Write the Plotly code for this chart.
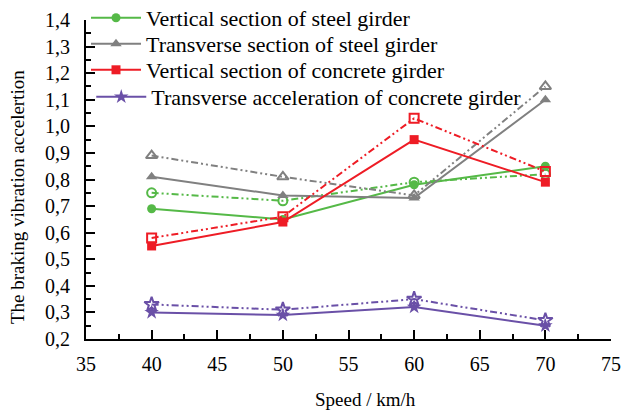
import plotly.graph_objects as go

speed = [40, 50, 60, 70]

steel_vert = [0.69, 0.65, 0.78, 0.85]
steel_vert_b = [0.75, 0.72, 0.79, 0.82]
steel_trans = [0.81, 0.74, 0.73, 1.10]
steel_trans_b = [0.89, 0.81, 0.74, 1.15]
conc_vert = [0.55, 0.64, 0.95, 0.79]
conc_vert_b = [0.58, 0.66, 1.03, 0.83]
conc_trans = [0.30, 0.29, 0.32, 0.25]
conc_trans_b = [0.33, 0.31, 0.35, 0.27]

names = ["Vertical section of steel girder",
         "Transverse section of steel girder",
         "Vertical section of concrete girder",
         "Transverse acceleration of concrete girder"]

GREEN = "#55b947"
GRAY = "#808080"
RED = "#ee1c25"
PURPLE = "#6a50a7"
FONT = "Liberation Serif"
DASH = "7px,3px,2px,3px,2px,3px"

series = [
    (steel_vert, steel_vert_b, GREEN, "circle", "circle-open", names[0], 9),
    (steel_trans, steel_trans_b, GRAY, "triangle-up", "triangle-up-open", names[1], 10),
    (conc_vert, conc_vert_b, RED, "square", "square-open", names[2], 9),
    (conc_trans, conc_trans_b, PURPLE, "star", "star-open", names[3], 11),
]

fig = go.Figure()
legend_ids = ["legend", "legend2", "legend3", "legend4"]
for i, (a, b, col, sym, sym_o, nm, ms) in enumerate(series):
    fig.add_trace(go.Scatter(x=speed, y=b, mode="lines+markers", showlegend=False,
                             line=dict(color=col, width=2, dash=DASH),
                             marker=dict(symbol=sym_o, size=ms, color=col,
                                         line=dict(color=col, width=2))))
    fig.add_trace(go.Scatter(x=speed, y=a, mode="lines+markers", name=nm,
                             legend=legend_ids[i],
                             line=dict(color=col, width=2),
                             marker=dict(symbol=sym, size=ms, color=col)))

row_y = [18, 44, 70, 97]
leg_x = [0.0, 0.0, 0.0, 0.01]
leg_common = dict(bgcolor="rgba(0,0,0,0)", font=dict(family=FONT, size=22, color="black"),
                  itemwidth=50, xanchor="left", yanchor="middle")
layout_legs = {}
for i, lid in enumerate(legend_ids):
    d = dict(leg_common)
    d["y"] = 1 - (row_y[i] - 20) / 319.0
    d["x"] = leg_x[i]
    layout_legs[lid] = d

fig.update_layout(
    width=621, height=412,
    margin=dict(l=86, r=10, t=20, b=73, autoexpand=False),
    paper_bgcolor="white", plot_bgcolor="white",
    separators=",.",
    font=dict(family=FONT, size=20, color="black"),
    **layout_legs,
)
fig.update_xaxes(range=[35, 75], dtick=5, tick0=35, showgrid=False, zeroline=False,
                 showline=True, linecolor="black", linewidth=2,
                 ticks="inside", ticklen=9, tickwidth=1.5, tickcolor="black",
                 minor=dict(ticks="inside", ticklen=5, dtick=2.5, tick0=35, tickcolor="black", tickwidth=1.5),
                 tickfont=dict(family=FONT, size=20), ticklabelstandoff=6)
fig.update_yaxes(range=[0.2, 1.4], dtick=0.1, tick0=0.2, tickformat=".1f", showgrid=False, zeroline=False,
                 showline=True, linecolor="black", linewidth=2,
                 ticks="inside", ticklen=9, tickwidth=1.5, tickcolor="black",
                 minor=dict(ticks="inside", ticklen=5, dtick=0.05, tick0=0.2, tickcolor="black", tickwidth=1.5),
                 tickfont=dict(family=FONT, size=20), ticklabelstandoff=10)

fig.add_annotation(text="Speed / km/h", xref="paper", yref="paper",
                   x=(365 - 86) / 525, y=-(399 - 339) / 319, xanchor="center", yanchor="middle",
                   showarrow=False, font=dict(family=FONT, size=19))
fig.add_annotation(text="The braking vibration accelertion", xref="paper", yref="paper",
                   x=-(86 - 17) / 525, y=1 - (197 - 20) / 319, xanchor="center", yanchor="middle",
                   textangle=-90, showarrow=False, font=dict(family=FONT, size=19))

fig.write_html("out.html")
